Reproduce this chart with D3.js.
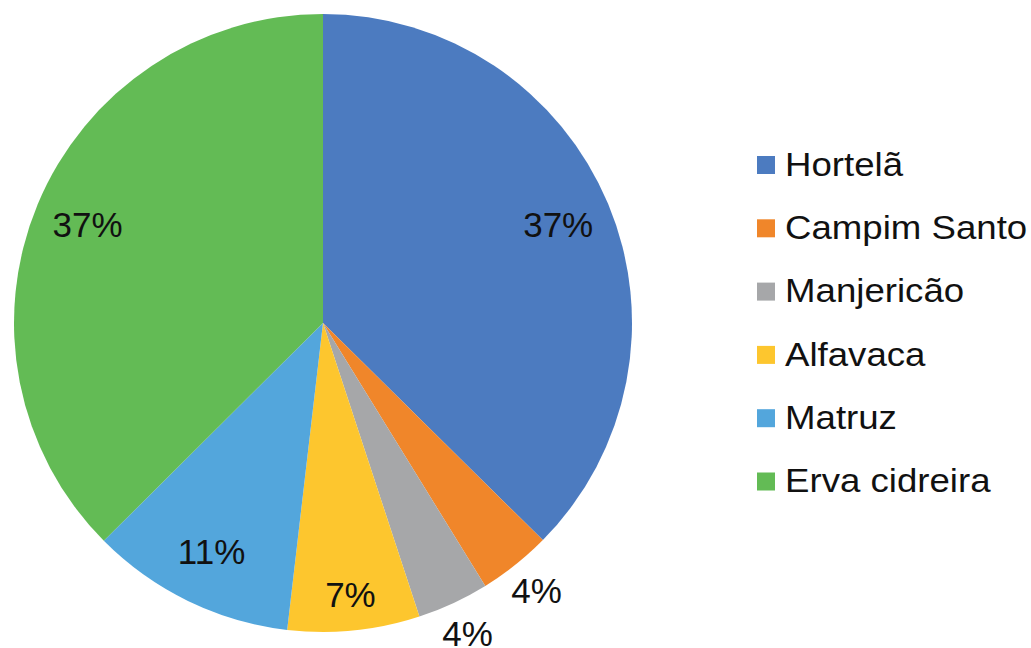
<!DOCTYPE html>
<html>
<head>
<meta charset="utf-8">
<script src="https://cdn.jsdelivr.net/npm/d3@7/dist/d3.min.js"></script>
<style>
html,body{margin:0;padding:0;background:#fff;}
svg{display:block;}
text{font-family:"Liberation Sans",Arial,sans-serif;fill:#111;}
</style>
</head>
<body>
<svg id="chart" width="1031" height="648"></svg>
<script>
const categories = ["Hortelã","Campim Santo","Manjericão","Alfavaca","Matruz","Erva cidreira"];
const values = [37.4, 3.8, 3.75, 6.9, 10.7, 37.45];
const colors = ["#4c7bc0","#f0862a","#a6a7a9","#fdc62e","#53a6dc","#63bb55"];

const W = 1031, H = 648;
const cx = 323, cy = 323, R = 309;
const svg = d3.select("#chart");

const pie = d3.pie().sort(null).value(d => d.v);
const data = categories.map((c,i)=>({c, v: values[i], col: colors[i]}));
const arcs = pie(data);
const arc = d3.arc().innerRadius(0).outerRadius(R);

const g = svg.append("g").attr("transform", `translate(${cx},${cy})`);
g.selectAll("path").data(arcs).enter().append("path")
  .attr("d", arc).attr("fill", d => d.data.col);

const total = d3.sum(values);
function labelR(d){
  const p = d.data.v/total*100;
  if (p < 5) return R*1.11;
  if (p < 9) return R*0.885;
  return R*0.825;
}
g.selectAll("text.lbl").data(arcs).enter().append("text")
  .attr("class","lbl")
  .attr("transform", d => {
    const a = (d.startAngle + d.endAngle)/2, r = labelR(d);
    return `translate(${Math.sin(a)*r},${-Math.cos(a)*r})`;
  })
  .attr("text-anchor","middle")
  .attr("dy","0.34em")
  .style("font-size","35px")
  .text(d => Math.round(d.data.v/total*100) + "%");

const leg = svg.append("g").attr("transform","translate(757,164)");
const rows = leg.selectAll("g").data(data).enter().append("g")
  .attr("transform",(d,i)=>`translate(0,${i*63.3})`);
rows.append("rect").attr("x",0).attr("y",-8).attr("width",18).attr("height",18).attr("fill",d=>d.col);
rows.append("text").attr("transform","translate(28,0) scale(1.11,1)").attr("dy","0.36em").style("font-size","33px").text(d=>d.c);
</script>
</body>
</html>
